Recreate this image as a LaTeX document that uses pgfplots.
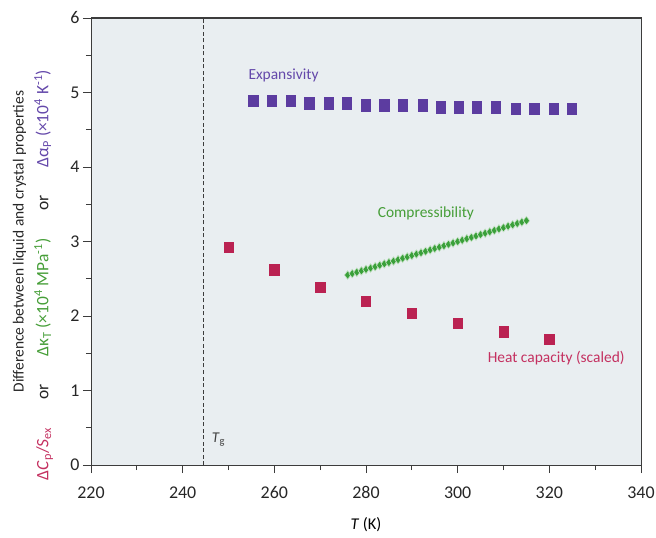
\documentclass[border=0pt]{standalone}
\usepackage{pgfplots}
\pgfplotsset{compat=1.18}
\usepackage{fontspec}
\setmainfont{Carlito}
\definecolor{cpurple}{RGB}{92,60,160}
\definecolor{cpurpletxt}{RGB}{100,72,170}
\definecolor{cred}{RGB}{186,34,82}
\definecolor{credtxt}{RGB}{196,48,96}
\definecolor{cgreen}{RGB}{58,160,58}
\definecolor{cgreentxt}{RGB}{70,158,56}
\definecolor{cbg}{RGB}{233,238,241}
\definecolor{caxis}{RGB}{60,60,60}
\begin{document}
\begin{tikzpicture}
\begin{axis}[
  name=ax,
  scale only axis,
  width=550bp, height=447bp,
  xmin=220, xmax=340, ymin=0, ymax=6,
  xtick={220,240,...,340}, ytick={0,1,...,6},
  minor x tick num=1, minor y tick num=1,
  tick align=outside, tick pos=left,
  major tick length=8bp, minor tick length=5bp,
  every tick/.style={caxis, line width=0.9pt},
  axis line style={caxis, line width=1pt},
  axis background/.style={fill=cbg},
  /pgf/number format/assume math mode=true,
  tick label style={font=\fontsize{18}{18}\selectfont, text=black!85},
  xticklabel style={yshift=-10bp},
  xlabel={\textit{T} (K)},
  xlabel style={font=\fontsize{16.5}{16.5}\selectfont, yshift=-12bp},
  clip=false,
]
% Tg line
\addplot[caxis, dashed, line width=0.9pt, dash pattern=on 4bp off 2.5bp] coordinates {(244.6,0) (244.6,6)};
\node[anchor=west, text=black!75, font=\fontsize{15}{15}\selectfont] at (axis cs:245.6,0.34) {\textit{T}\textsubscript{g}};
% Expansivity
\addplot[only marks, mark=square*, mark size=5.8bp, mark options={xscale=0.8, fill=cpurple, draw=cpurple}]
coordinates {
(255.4,4.89) (259.5,4.89) (263.5,4.89) (267.6,4.86) (271.8,4.86) (275.8,4.86)
(280.0,4.83) (284.0,4.83) (288.0,4.83) (292.4,4.83) (296.3,4.80) (300.3,4.80)
(304.2,4.80) (308.3,4.80) (312.6,4.78) (316.7,4.78) (320.9,4.78) (324.9,4.78)
};
% Heat capacity
\addplot[only marks, mark=square*, mark size=5.2bp, mark options={xscale=0.9, fill=cred, draw=cred}]
coordinates {
(250,2.92) (260,2.62) (270,2.39) (280,2.20) (290,2.04) (300,1.90) (310,1.79) (320,1.69)
};
% Compressibility
\addplot[only marks, mark=diamond*, mark size=4.3bp, mark options={fill=cgreen, draw=cgreen!30!white, line width=0.6pt}]
coordinates {
(276,2.550) (277,2.569) (278,2.587) (279,2.606) (280,2.625) (281,2.644) (282,2.662) (283,2.681)
(284,2.700) (285,2.718) (286,2.737) (287,2.756) (288,2.775) (289,2.793) (290,2.812) (291,2.831)
(292,2.849) (293,2.868) (294,2.887) (295,2.906) (296,2.924) (297,2.943) (298,2.962) (299,2.980)
(300,2.999) (301,3.018) (302,3.037) (303,3.055) (304,3.074) (305,3.093) (306,3.111) (307,3.130)
(308,3.149) (309,3.168) (310,3.186) (311,3.205) (312,3.224) (313,3.242) (314,3.261) (315,3.280)
};
\node[anchor=west, text=cpurpletxt, font=\fontsize{15.5}{15.5}\selectfont] at (axis cs:253.6,5.23) {Expansivity};
\node[anchor=west, text=cgreentxt, font=\fontsize{15.5}{15.5}\selectfont] at (axis cs:281.8,3.38) {Compressibility};
\node[anchor=west, text=credtxt, font=\fontsize{15.5}{15.5}\selectfont] at (axis cs:305.8,1.44) {Heat capacity (scaled)};
% y label lines
\node[rotate=90, font=\fontsize{15.5}{15.5}\selectfont, text=black!85] at (axis description cs:-0.13,0.50) {Difference between liquid and crystal properties};
\node[rotate=90, font=\fontsize{17.5}{17.5}\selectfont, text=black!85] at (axis description cs:-0.086,0.425)
{\textcolor{credtxt}{Δ\textit{C}\textsubscript{p}/\textit{S}\textsubscript{ex}}\hspace{1.6em}or\hspace{1.6em}\textcolor{cgreentxt}{Δκ\textsubscript{T} (×10\textsuperscript{4} MPa\textsuperscript{-1})}\hspace{1.6em}or\hspace{1.6em}\textcolor{cpurpletxt}{Δα\textsubscript{P} (×10\textsuperscript{4} K\textsuperscript{-1})}};
\end{axis}
\draw[caxis, line width=1pt] (ax.south east) -- (ax.north east) -- (ax.north west);
\pgfresetboundingbox
\path[use as bounding box] ([shift={(-91bp,-73bp)}]ax.south west) rectangle ([shift={(15bp,18bp)}]ax.north east);
\end{tikzpicture}
\end{document}
